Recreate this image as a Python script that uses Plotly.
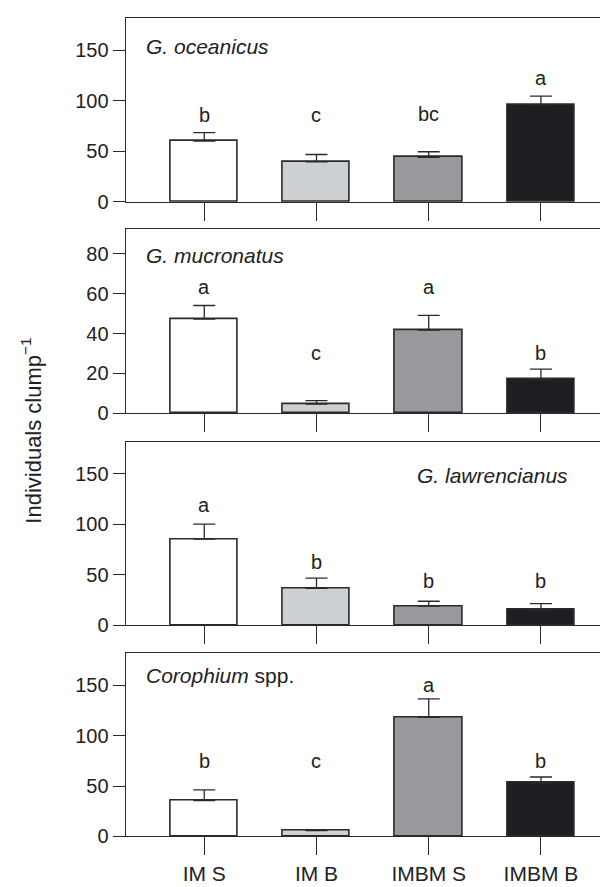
import plotly.graph_objects as go

categories = ["IM S", "IM B", "IMBM S", "IMBM B"]
bar_colors = ["#ffffff", "#cdd0d3", "#99989d", "#1e1e22"]

species = ["<i>G. oceanicus</i>", "<i>G. mucronatus</i>",
           "<i>G. lawrencianus</i>", "<i>Corophium</i> spp."]

means_oceanicus = [60.1, 39.6, 44.0, 95.6]
se_oceanicus = [8.3, 7.2, 5.5, 8.8]
letters_oceanicus = ["b", "c", "bc", "a"]

means_mucronatus = [47.3, 4.6, 41.8, 16.9]
se_mucronatus = [6.8, 1.7, 7.3, 5.2]
letters_mucronatus = ["a", "c", "a", "b"]

means_lawrencianus = [85.4, 36.5, 18.9, 15.3]
se_lawrencianus = [14.7, 10.2, 4.9, 6.2]
letters_lawrencianus = ["a", "b", "b", "b"]

means_corophium = [35.4, 5.6, 118.3, 53.0]
se_corophium = [10.8, None, 18.3, 6.0]
letters_corophium = ["b", "c", "a", "b"]

y_ticks_1 = [0, 50, 100, 150]
y_ticks_2 = [0, 20, 40, 60, 80]

# layout (positions)
FONT = "Liberation Sans, Arial, Helvetica, sans-serif"
INK = "#2a2a2a"
TXT = "#222222"
W, H = 608, 887
panels = [
    dict(means=means_oceanicus, se=se_oceanicus, letters=letters_oceanicus,
         letter_y=[85.5, 85.5, 86.5, 122.5], ticks=y_ticks_1, ytop=181.8,
         px_top=10, px_zero=196.3, label_y=154, label_x=135.7, label_anchor="left"),
    dict(means=means_mucronatus, se=se_mucronatus, letters=letters_mucronatus,
         letter_y=[63.5, 30.4, 63.5, 30.4], ticks=y_ticks_2, ytop=92.4,
         px_top=224, px_zero=410.3, label_y=79, label_x=135.7, label_anchor="left"),
    dict(means=means_lawrencianus, se=se_lawrencianus, letters=letters_lawrencianus,
         letter_y=[119, 62.9, 44, 44], ticks=y_ticks_1, ytop=182,
         px_top=439, px_zero=625, label_y=148.4, label_x=484.7, label_anchor="center"),
    dict(means=means_corophium, se=se_corophium, letters=letters_corophium,
         letter_y=[74.7, 74.7, 150, 74.7], ticks=y_ticks_1, ytop=182.7,
         px_top=652.7, px_zero=838.7, label_y=160.1, label_x=135.7, label_anchor="left"),
]

x_left_px = 117.7
xs = list(range(len(categories)))
x_range = [-0.7, (W - 196.0) / 112.3]

fig = go.Figure()
annotations = []
layout = {}
for k, p in enumerate(panels):
    n = k + 1
    xa = "x" if n == 1 else f"x{n}"
    ya = "y" if n == 1 else f"y{n}"
    fig.add_trace(go.Bar(
        x=xs, y=p["means"], width=0.6, xaxis=xa, yaxis=ya,
        marker=dict(color=bar_colors, line=dict(color=INK, width=1.6)),
        error_y=dict(type="data", symmetric=False, array=p["se"],
                     arrayminus=[0] * len(xs), color=INK, thickness=1.3, width=11,
                     visible=True),
        showlegend=False, hoverinfo="skip",
    ))
    dom_y = [(H - p["px_zero"]) / H, (H - p["px_top"]) / H]
    layout[f"xaxis{'' if n == 1 else n}"] = dict(
        domain=[x_left_px / W, 1.0], range=x_range, anchor=ya,
        showline=True, linecolor=INK, linewidth=1.3, mirror=True,
        ticks="outside", ticklen=18, tickwidth=1.3, tickcolor=INK,
        tickvals=xs, ticktext=categories,
        showticklabels=(n == 4), showgrid=False, zeroline=False,
        tickfont=dict(family=FONT, size=21, color=TXT),
    )
    layout[f"yaxis{'' if n == 1 else n}"] = dict(
        domain=dom_y, range=[0, p["ytop"]], anchor=xa,
        showline=True, linecolor=INK, linewidth=1.3,
        ticks="outside", ticklen=12, tickwidth=1.3, tickcolor=INK,
        tickvals=p["ticks"], showgrid=False, zeroline=False,
        tickfont=dict(family=FONT, size=20, color=TXT),
    )
    for i, (lt, ly) in enumerate(zip(p["letters"], p["letter_y"])):
        annotations.append(dict(x=i, y=ly, xref=xa, yref=ya, text=lt,
                                showarrow=False, xanchor="center", yanchor="middle",
                                font=dict(family=FONT, size=20, color=TXT)))
    annotations.append(dict(x=p["label_x"] / W, y=p["label_y"], xref="paper", yref=ya,
                            text=species[k], showarrow=False, xanchor=p["label_anchor"],
                            yanchor="middle",
                            font=dict(family=FONT, size=21, color=TXT)))

annotations.append(dict(x=23 / W, y=(H - 428) / H, xref="paper", yref="paper",
                        text="Individuals clump<sup>−1</sup>", textangle=-90,
                        xanchor="center", yanchor="middle",
                        showarrow=False, font=dict(family=FONT, size=22, color=TXT)))

fig.update_layout(
    width=W, height=H, margin=dict(l=0, r=0, t=0, b=0),
    paper_bgcolor="white", plot_bgcolor="white",
    annotations=annotations, bargap=0, **layout,
)
fig.write_html("out.html")
